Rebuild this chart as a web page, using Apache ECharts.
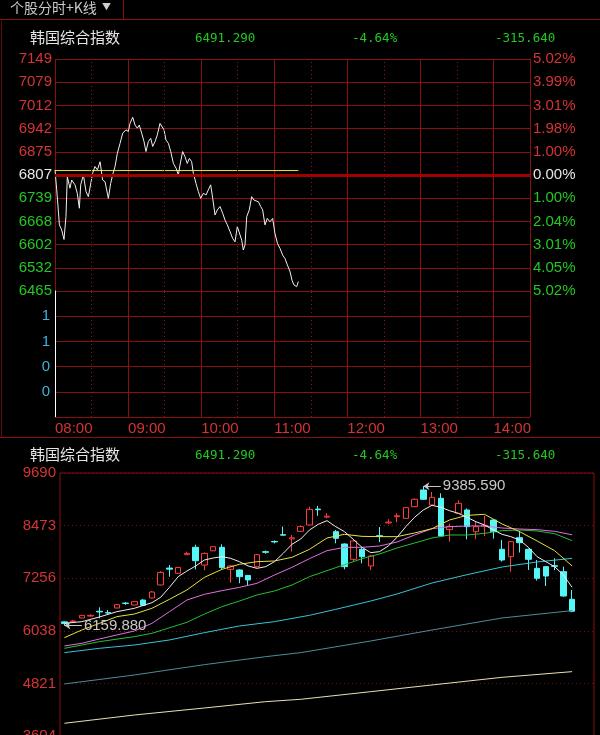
<!DOCTYPE html>
<html>
<head>
<meta charset="utf-8">
<script src="https://cdn.jsdelivr.net/npm/echarts@6/dist/echarts.min.js"></script>
<style>
  html, body { margin: 0; padding: 0; background: #000; }
  #main { width: 600px; height: 735px; }
</style>
</head>
<body>
<div id="main"></div>
<script>
// ---- data ----
const stockName = '韩国综合指数'
const lastPrice = '6491.290'
const changePct = '-4.64%'
const changeAmt = '-315.640'
const prevClose = 6806.93
const avgLine = 6820

// intraday: [minute since 08:00, price]
const intraday = [
  [0.0, 6822], [1.4, 6763], [2.7, 6704], [3.6, 6660], [5.5, 6645], [7.4, 6617], [9.0, 6684], [10.1, 6802],
  [12.3, 6768], [13.7, 6792], [16.4, 6778], [18.3, 6753], [20.0, 6709], [21.1, 6778], [23.3, 6807], [25.5, 6758],
  [27.4, 6743], [28.7, 6738], [30.9, 6812], [32.8, 6832], [34.8, 6822], [37.0, 6846], [39.1, 6792], [41.1, 6787],
  [43.8, 6738], [45.7, 6782], [47.3, 6807], [49.3, 6832], [51.2, 6871], [53.4, 6900], [55.6, 6930], [58.3, 6940],
  [60.2, 6935], [61.6, 6959], [63.8, 6977], [65.7, 6954], [67.6, 6945], [69.2, 6954], [71.2, 6930], [73.1, 6905],
  [74.7, 6876], [76.6, 6905], [78.6, 6915], [80.2, 6891], [82.1, 6905], [84.0, 6925], [86.2, 6959], [87.6, 6964],
  [89.5, 6940], [91.1, 6910], [93.1, 6900], [95.0, 6876], [97.2, 6841], [99.4, 6827], [101.3, 6807], [102.6, 6836],
  [104.8, 6876], [106.7, 6861], [108.6, 6841], [110.3, 6856], [112.2, 6846], [113.6, 6812], [115.8, 6782], [117.7, 6758],
  [119.6, 6738], [121.8, 6753], [124.0, 6748], [125.9, 6763], [127.8, 6778], [129.5, 6738], [131.4, 6689], [133.3, 6704],
  [135.5, 6714], [137.7, 6694], [139.6, 6674], [141.5, 6660], [143.7, 6640], [145.9, 6620], [147.8, 6610], [149.7, 6655],
  [151.3, 6660], [153.3, 6615], [154.6, 6586], [156.0, 6601], [157.4, 6684], [159.5, 6704], [161.5, 6743], [163.4, 6733],
  [165.0, 6738], [167.0, 6728], [168.9, 6714], [170.5, 6704], [172.4, 6660], [174.3, 6679], [176.5, 6669], [178.7, 6679],
  [180.6, 6635], [182.6, 6606], [184.7, 6591], [186.9, 6571], [188.8, 6561], [190.8, 6542], [193.0, 6522], [194.6, 6497],
  [196.2, 6483], [198.4, 6478], [199.8, 6493]
]

const timeLabels = ['08:00', '09:00', '10:00', '11:00', '12:00', '13:00', '14:00']
const halfHours = [30, 90, 150, 210, 270, 330]
const priceLabels = ['6465', '6532', '6602', '6668', '6739', '6807', '6875', '6942', '7012', '7079', '7149']
const pctLabels = ['5.02%', '4.05%', '3.01%', '2.04%', '1.00%', '0.00%', '1.00%', '1.98%', '3.01%', '3.99%', '5.02%']
const volLabels = ['', '0', '0', '1', '1', '']
const kLabels = ['3604', '4821', '6038', '7256', '8473', '9690']

// daily candles
const opens = [6245, 6250, 6335, 6380, 6490, 6460, 6566, 6680, 6636, 6750, 6798, 7100, 7490, 7368, 7800, 7970, 7560, 7890, 7970, 7460,
  7445, 7320, 7523, 7870, 8105, 8262, 8165, 8340, 8487, 8855, 8670, 8333, 8047, 7692, 7924, 7538, 8240, 8535, 8680, 8641,
  8911, 9297, 8950, 9104, 8380, 8757, 8834, 8333, 8460, 8602, 7924, 7754, 8194, 7924, 7484, 7523, 7545, 7407, 6767]
const closes = [6205, 6265, 6395, 6395, 6475, 6450, 6643, 6670, 6713, 6630, 6936, 7390, 7465, 7505, 7830, 7660, 7830, 7985, 7505, 7540,
  7290, 7215, 7800, 7855, 8095, 8252, 8190, 8450, 8849, 8840, 8690, 8178, 7523, 8117, 7754, 7770, 8225, 8555, 8700, 8888,
  9081, 9081, 9127, 8232, 8450, 8988, 8448, 8448, 8480, 8333, 7677, 8101, 8078, 7692, 7253, 7306, 7530, 6844, 6491.29]
const lows = [6159.88, 6235, 6330, 6370, 6327, 6430, 6560, 6640, 6630, 6620, 6790, 7090, 7290, 7360, 7790, 7460, 7440, 7880, 7470, 7150,
  7140, 7075, 7510, 7820, 8060, 8250, 7870, 8330, 8480, 8700, 8640, 8063, 7461, 7640, 7600, 7445, 8090, 8510, 8550, 8630,
  8900, 9070, 8940, 8220, 8100, 8750, 8155, 8160, 8230, 8170, 7638, 7407, 7850, 7446, 7200, 7075, 7440, 6830, 6470]
const highs = [6255, 6290, 6400, 6420, 6582, 6520, 6650, 6700, 6720, 6770, 6960, 7420, 7560, 7515, 7870, 8030, 7850, 8000, 8040, 7560,
  7460, 7330, 7810, 7895, 8130, 8450, 8255, 8470, 8911, 8930, 8760, 8370, 8060, 8150, 7970, 7790, 8440, 8620, 8760, 8900,
  9100, 9385.59, 9250, 9220, 8520, 9060, 8870, 8564, 8700, 8620, 8140, 8110, 8350, 7940, 7677, 7540, 7715, 7523, 6983]

// moving averages: [candle index, value]
const ma5 = [[0, 6211], [2, 6250], [4, 6358], [6, 6481], [8, 6559], [10, 6690], [11, 6813], [12, 7044], [13, 7291], [14, 7422],
  [15, 7538], [16, 7677], [17, 7723], [18, 7754], [19, 7715], [20, 7638], [21, 7538], [22, 7484], [23, 7523], [24, 7638],
  [25, 7831], [26, 8040], [27, 8163], [28, 8371], [29, 8502], [30, 8587], [31, 8448], [32, 8333], [33, 8155], [34, 7970],
  [35, 7847], [36, 7870], [37, 8001], [38, 8201], [39, 8448], [40, 8664], [41, 8834], [42, 8942], [43, 8896], [44, 8818],
  [45, 8757], [46, 8664], [47, 8564], [48, 8487], [49, 8371], [50, 8271], [51, 8217], [52, 8140], [53, 7970], [54, 7754],
  [55, 7638], [56, 7523], [57, 7330], [58, 7045]]
const ma10 = [[0, 5880], [2, 6057], [4, 6211], [6, 6366], [8, 6427], [10, 6559], [12, 6767], [14, 6983], [16, 7276], [18, 7461],
  [20, 7577], [22, 7638], [24, 7654], [26, 7739], [28, 7924], [30, 8186], [32, 8271], [34, 8224], [36, 8217], [38, 8217],
  [40, 8302], [42, 8402], [44, 8603], [46, 8710], [48, 8734], [50, 8510], [52, 8333], [54, 8117], [56, 7893], [58, 7538]]
const ma20 = [[0, 5687], [2, 5749], [4, 5849], [6, 5942], [8, 6034], [10, 6211], [12, 6481], [14, 6751], [16, 6883], [18, 6967],
  [20, 7044], [22, 7137], [24, 7330], [26, 7507], [28, 7708], [30, 7893], [32, 7970], [34, 7970], [36, 8001], [38, 8094],
  [40, 8255], [42, 8402], [44, 8448], [46, 8464], [48, 8464], [50, 8417], [52, 8394], [54, 8379], [56, 8340], [58, 8260]]
const ma30 = [[0, 5633], [4, 5787], [8, 5903], [10, 5980], [14, 6235], [16, 6427], [18, 6597], [20, 6728], [22, 6867], [24, 6960],
  [26, 7098], [28, 7291], [30, 7430], [32, 7569], [34, 7708], [36, 7816], [38, 7955], [40, 8070], [42, 8186], [44, 8255],
  [46, 8255], [48, 8294], [50, 8356], [52, 8371], [54, 8348], [56, 8286], [58, 8124]]
const ma60 = [[0, 5533], [4, 5633], [8, 5710], [12, 5826], [16, 5996], [20, 6150], [24, 6250], [28, 6397], [31, 6535], [35, 6728],
  [38, 6890], [42, 7145], [46, 7337], [50, 7515], [54, 7631], [58, 7715]]
const ma120 = [[0, 4808], [8, 5016], [16, 5255], [23, 5440], [27, 5533], [35, 5803], [42, 6057], [50, 6335], [58, 6505]]
const ma250 = [[0, 3898], [8, 4090], [16, 4252], [23, 4399], [27, 4453], [35, 4630], [42, 4785], [50, 4962], [58, 5093]]

// ---- chart ----
const GRID_RED = '#8c0f0f'
const DOT_RED = '#9a1414'
const LABEL_RED = '#d43434'
const LABEL_GREEN = '#22c822'
const UP = '#ff3c3c'
const DOWN = '#54f6f6'
const NUM_FONT = 'DejaVu Sans Mono'
const AX_FONT = 'Liberation Sans'

const pxMin = 6465.2
const pxMax = 7148.6
const pxStep = (pxMax - pxMin) / 10
const pxIdx = v => Math.round((v - pxMin) / pxStep)
const sideColor = v => {
  const i = pxIdx(v)
  return i < 5 ? LABEL_GREEN : (i === 5 ? '#e6e6e6' : LABEL_RED)
}

const kMin = 3604
const kMax = 9690
const kStep = (kMax - kMin) / 5

const kDays = []
for (let i = 0; i < opens.length + 2; i++) kDays.push(String(i))
const candles = opens.map((o, i) => [o, closes[i], lows[i], highs[i]])

const headerRow = (top) => [
  {text: stockName, left: 30, top: top, padding: 0, textStyle: {color: '#e6e6e6', fontSize: 15, fontWeight: 'normal', fontFamily: 'Noto Sans CJK SC'}},
  {text: lastPrice, left: 195, top: top + 2, padding: 0, textStyle: {color: LABEL_GREEN, fontSize: 12.5, fontWeight: 'normal', fontFamily: NUM_FONT}},
  {text: changePct, left: 352, top: top + 2, padding: 0, textStyle: {color: LABEL_GREEN, fontSize: 12.5, fontWeight: 'normal', fontFamily: NUM_FONT}},
  {text: changeAmt, left: 495, top: top + 2, padding: 0, textStyle: {color: LABEL_GREEN, fontSize: 12.5, fontWeight: 'normal', fontFamily: NUM_FONT}}
]

const hLine = (x1, y1, x2, y2, color) => ({
  type: 'line', silent: true,
  shape: {x1, y1, x2, y2},
  style: {stroke: color, lineWidth: 1}
})

// hourly solid grid lines (+ labels on the lower one)
const timeAxis = (grid, showLabels) => ({
  gridIndex: grid, type: 'value', min: 0, max: 390, interval: 60,
  axisLine: {show: showLabels, lineStyle: {color: GRID_RED}},
  axisTick: {show: false},
  axisLabel: {
    show: showLabels, color: LABEL_RED, fontSize: 15, fontFamily: AX_FONT, align: 'left', margin: 4,
    formatter: v => timeLabels[v / 60] || ''
  },
  splitLine: {show: true, lineStyle: {color: GRID_RED, width: 1}}
})

// half-hour dotted guides, drawn as markLines on an empty series
const halfHourGuides = (xi, yi, lo, hi) => ({
  type: 'line', xAxisIndex: xi, yAxisIndex: yi, silent: true, symbol: 'none',
  data: halfHours.map(m => [m, null]),
  markLine: {
    silent: true, symbol: 'none', label: {show: false},
    lineStyle: {color: DOT_RED, width: 1, type: [1, 3]},
    data: halfHours.map(m => [{coord: [m, lo]}, {coord: [m, hi]}])
  }
})

const maLine = (data, color) => ({
  type: 'line', xAxisIndex: 2, yAxisIndex: 3, data: data,
  symbol: 'none', silent: true,
  lineStyle: {color: color, width: 1}
})

const chart = echarts.init(document.getElementById('main'))

chart.setOption({
  backgroundColor: '#000',
  animation: false,
  title: [
    {
      text: '个股分时+K线 {a|▼}', left: 10, top: 1, padding: 0,
      textStyle: {
        color: '#c8c8c8', fontSize: 14, fontWeight: 'normal', fontFamily: 'Noto Sans CJK SC',
        rich: {a: {fontSize: 9, color: '#d0d0d0', padding: [0, 0, 2, 2]}}
      }
    },
    ...headerRow(30),
    ...headerRow(447)
  ],
  graphic: [
    hLine(0, 19.5, 600, 19.5, GRID_RED),
    hLine(123.5, 0, 123.5, 19, GRID_RED),
    hLine(0, 437.5, 600, 437.5, GRID_RED),
    hLine(1.5, 19, 1.5, 437, '#5a0a0a'),
    hLine(55.5, 168, 55.5, 291, '#ffffff')
  ],
  grid: [
    {left: 55, width: 475, top: 59, height: 232, outerBoundsMode: 'none'},
    {left: 55, width: 475, top: 291, height: 126, outerBoundsMode: 'none'},
    {left: 60, width: 534, top: 473, height: 263, outerBoundsMode: 'none', show: true, borderColor: GRID_RED, borderWidth: 1}
  ],
  xAxis: [
    timeAxis(0, false),
    timeAxis(1, true),
    {
      gridIndex: 2, type: 'category', data: kDays, boundaryGap: true,
      axisLine: {show: false}, axisTick: {show: false}, axisLabel: {show: false}, splitLine: {show: false}
    }
  ],
  yAxis: [
    {
      gridIndex: 0, type: 'value', min: pxMin, max: pxMax, interval: pxStep, position: 'left',
      axisLine: {show: false}, axisTick: {show: false},
      axisLabel: {fontSize: 15, fontFamily: AX_FONT, margin: 3, formatter: v => priceLabels[pxIdx(v)], color: v => sideColor(v)},
      splitLine: {show: true, lineStyle: {color: GRID_RED, width: 1}}
    },
    {
      gridIndex: 0, type: 'value', min: pxMin, max: pxMax, interval: pxStep, position: 'right',
      axisLine: {show: true, lineStyle: {color: GRID_RED}}, axisTick: {show: false},
      axisLabel: {fontSize: 15, fontFamily: AX_FONT, margin: 3, formatter: v => pctLabels[pxIdx(v)], color: v => sideColor(v)},
      splitLine: {show: false}
    },
    {
      gridIndex: 1, type: 'value', min: 0, max: 5, interval: 1,
      axisLine: {show: true, lineStyle: {color: '#ffffff', width: 1}}, axisTick: {show: false},
      axisLabel: {fontSize: 15, fontFamily: AX_FONT, margin: 5, color: '#3cb4dc', formatter: v => volLabels[v]},
      splitLine: {show: true, lineStyle: {color: GRID_RED, width: 1}}
    },
    {
      gridIndex: 2, type: 'value', min: kMin, max: kMax, interval: kStep,
      axisLine: {show: false}, axisTick: {show: false},
      axisLabel: {fontSize: 15, fontFamily: AX_FONT, margin: 4, color: LABEL_RED, formatter: v => kLabels[Math.round((v - kMin) / kStep)]},
      splitLine: {show: true, lineStyle: {color: '#7a0e0e', type: [1, 3]}}
    }
  ],
  series: [
    {
      type: 'line', xAxisIndex: 0, yAxisIndex: 0, silent: true, symbol: 'none',
      data: [[0, avgLine], [intraday[intraday.length - 1][0], avgLine]],
      lineStyle: {color: '#e6e632', width: 1},
      markLine: {
        silent: true, symbol: 'none', label: {show: false},
        lineStyle: {color: '#a00000', width: 3, type: 'solid'},
        data: [{yAxis: prevClose}]
      }
    },
    halfHourGuides(0, 0, pxMin, pxMax),
    halfHourGuides(1, 2, 0, 5),
    {
      type: 'line', xAxisIndex: 0, yAxisIndex: 0, silent: true, symbol: 'none',
      data: intraday,
      lineStyle: {color: '#f0f0f0', width: 1}
    },
    {
      type: 'candlestick', xAxisIndex: 2, yAxisIndex: 3, data: candles, barWidth: 6, silent: true,
      itemStyle: {color: '#000', color0: DOWN, borderColor: UP, borderColor0: DOWN, borderWidth: 1},
      markLine: {
        silent: true, symbol: ['arrow', 'none'], symbolSize: 6,
        lineStyle: {color: '#c8c8c8', width: 1, type: 'solid'},
        label: {position: 'end', distance: 2, color: '#c8c8c8', fontSize: 15, fontFamily: AX_FONT, formatter: p => p.value.toFixed(3)},
        data: [
          [{coord: [41, highs[41]], value: highs[41]}, {coord: [43, highs[41]]}],
          [{coord: [0, lows[0]], value: lows[0]}, {coord: [2, lows[0]]}]
        ]
      }
    },
    maLine(ma250, '#e8e0b4'),
    maLine(ma120, '#4f8c9c'),
    maLine(ma60, '#36c4d8'),
    maLine(ma30, '#22c032'),
    maLine(ma20, '#e070e0'),
    maLine(ma10, '#e8e040'),
    maLine(ma5, '#eeeeee')
  ]
})
</script>
</body>
</html>
